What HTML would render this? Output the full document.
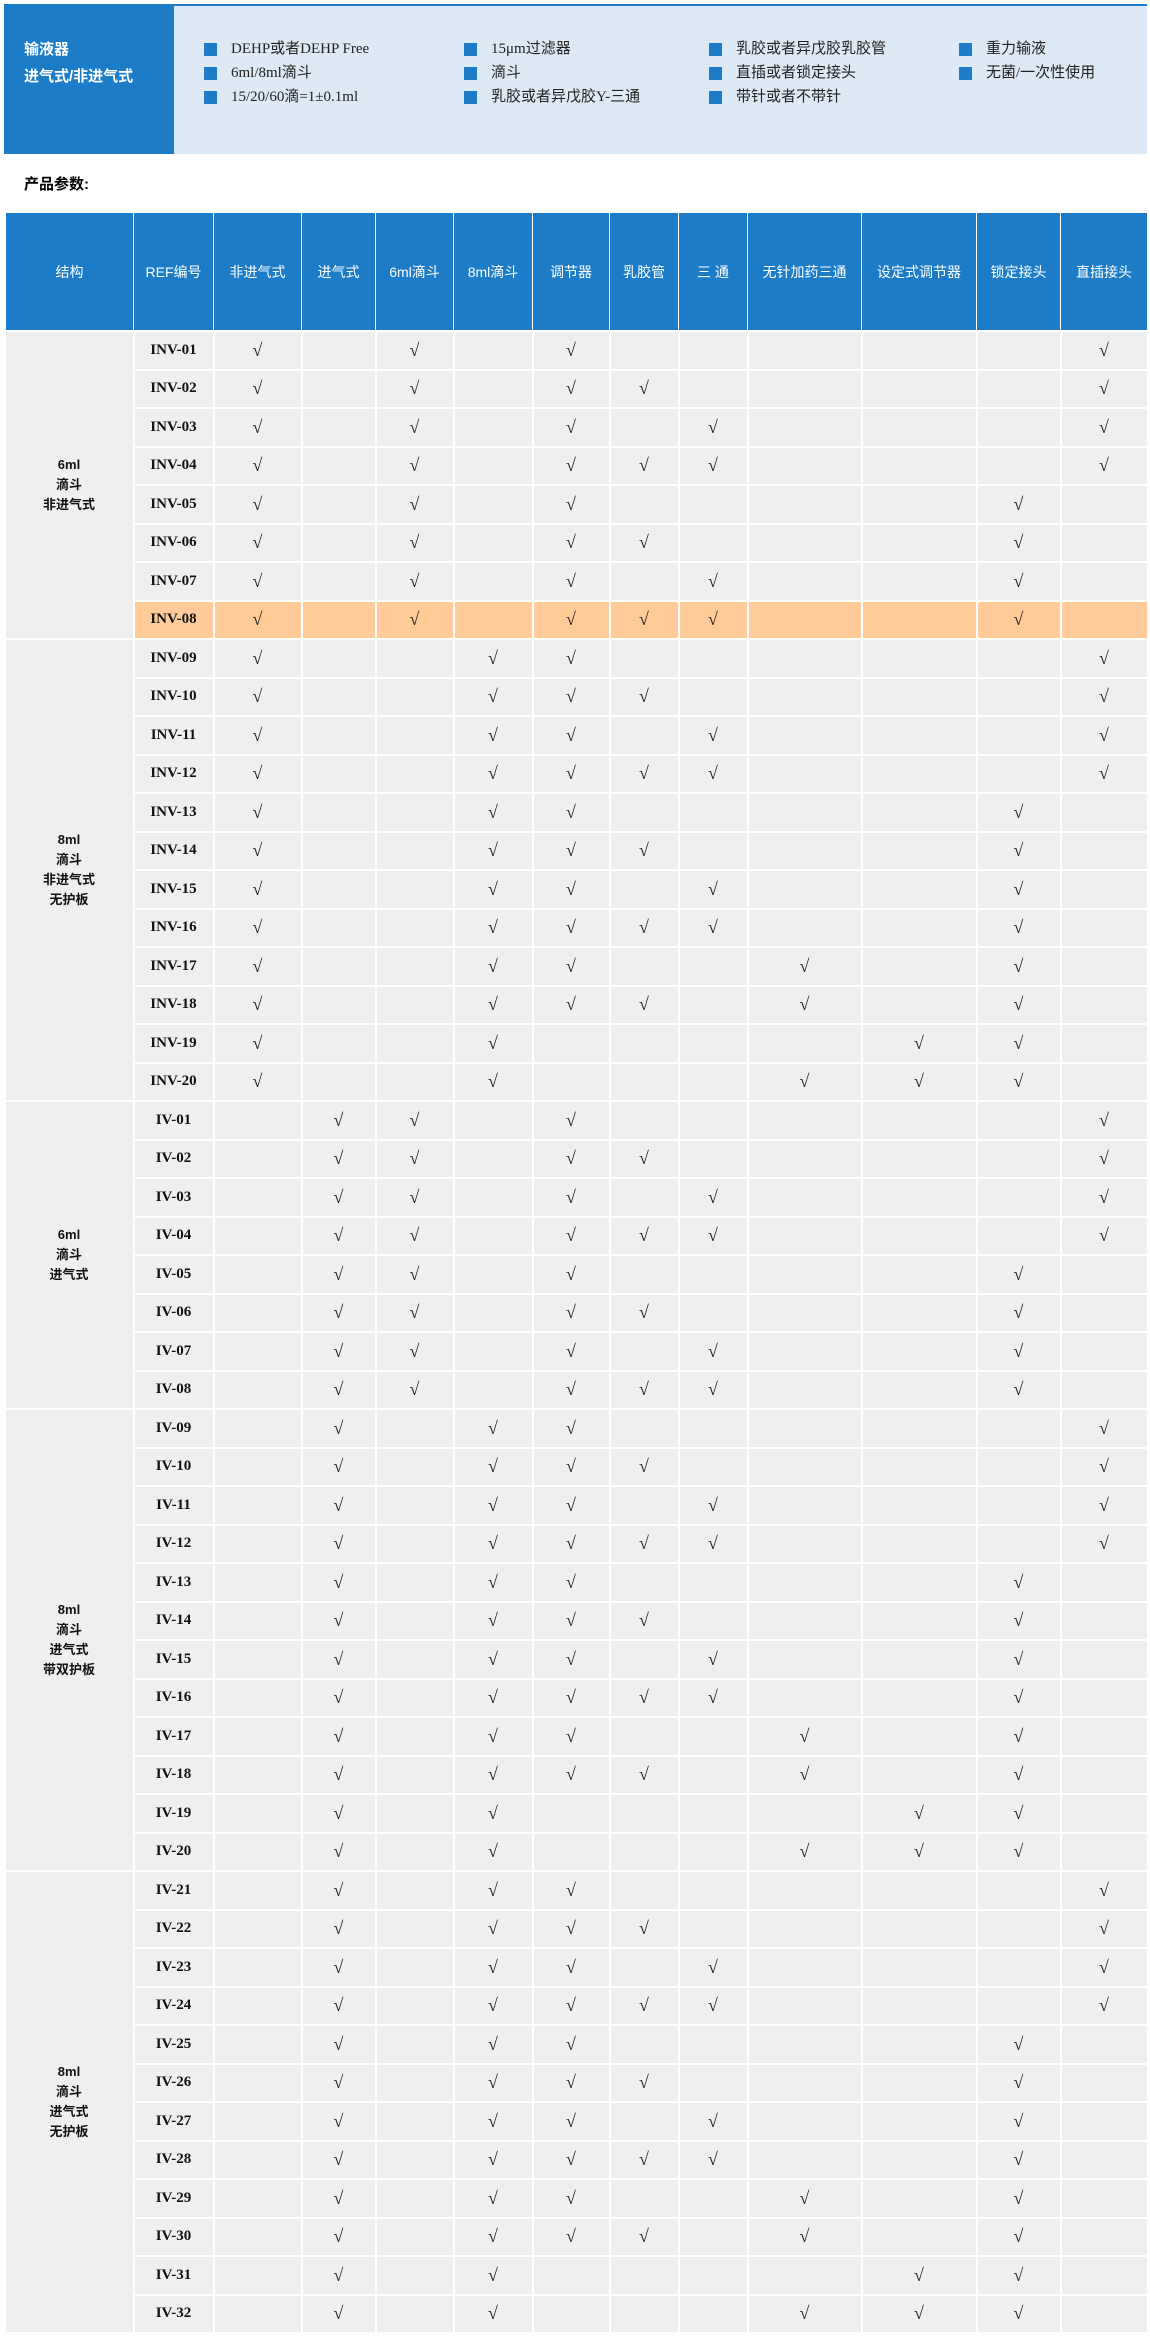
<!DOCTYPE html>
<html><head><meta charset="utf-8"><style>
*{margin:0;padding:0;box-sizing:border-box}
body{width:1150px;height:2350px;background:#fff;font-family:"Liberation Serif","Noto Serif CJK SC","Noto Sans CJK SC",serif;position:relative;overflow:hidden}
.top{position:absolute;left:4px;top:4px;width:1143px;height:150px;background:#dde9f5;border-top:2px solid #1c7cc7}
.lb{position:absolute;left:0;top:0;width:170px;height:148px;background:#1c7cc7;color:#fff;font-weight:bold;font-size:15px;padding:30px 0 0 20px;line-height:27px;font-family:"Liberation Sans","Noto Sans CJK SC",sans-serif}
.b{position:absolute;font-size:15px;color:#222;line-height:20px;font-family:"Liberation Serif","Noto Sans CJK SC",serif;white-space:nowrap}
.b:before{content:"";position:absolute;left:-27px;top:4px;width:13px;height:13px;background:#1c7cc7}
.pc{position:absolute;left:24px;top:173px;font-size:15px;font-weight:bold;font-family:"Liberation Sans","Noto Sans CJK SC",sans-serif}
table{position:absolute;left:5px;top:213px;width:1142px;border-collapse:collapse;table-layout:fixed}
th{background:#1c7cc7;color:#fff;font-weight:normal;font-size:14px;height:118px;border:1px solid #fff;border-top:none;font-family:"Liberation Sans","Noto Sans CJK SC",sans-serif}
td{background:#efefef;height:38.5px;border:2px solid #fff;text-align:center;font-size:18px;color:#222}
td.r{font-weight:bold;color:#111;font-size:15px}
td.s{font-weight:bold;color:#111;font-size:13px;line-height:20px;font-family:"Liberation Sans","Noto Sans CJK SC",sans-serif;border-left:none}
tr.h td:not(.s){background:#ffcc99}
</style></head><body>
<div class="top"><div class="lb">输液器<br>进气式/非进气式</div>
<div class="b" style="left:227px;top:33px">DEHP或者DEHP Free</div>
<div class="b" style="left:227px;top:57px">6ml/8ml滴斗</div>
<div class="b" style="left:227px;top:81px">15/20/60滴=1±0.1ml</div>
<div class="b" style="left:487px;top:33px">15μm过滤器</div>
<div class="b" style="left:487px;top:57px">滴斗</div>
<div class="b" style="left:487px;top:81px">乳胶或者异戊胶Y-三通</div>
<div class="b" style="left:732px;top:33px">乳胶或者异戊胶乳胶管</div>
<div class="b" style="left:732px;top:57px">直插或者锁定接头</div>
<div class="b" style="left:732px;top:81px">带针或者不带针</div>
<div class="b" style="left:982px;top:33px">重力输液</div>
<div class="b" style="left:982px;top:57px">无菌/一次性使用</div>
</div>
<div class="pc">产品参数:</div>
<table>
<colgroup><col style="width:128px"><col style="width:80px"><col style="width:88px"><col style="width:74px"><col style="width:78px"><col style="width:79px"><col style="width:77px"><col style="width:69px"><col style="width:69px"><col style="width:114px"><col style="width:115px"><col style="width:84px"><col style="width:87px"></colgroup>
<tr><th>结构</th><th>REF编号</th><th>非进气式</th><th>进气式</th><th>6ml滴斗</th><th>8ml滴斗</th><th>调节器</th><th>乳胶管</th><th>三 通</th><th>无针加药三通</th><th>设定式调节器</th><th>锁定接头</th><th>直插接头</th></tr>
<tr><td class="s" rowspan="8">6ml<br>滴斗<br>非进气式</td><td class="r">INV-01</td><td>√</td><td></td><td>√</td><td></td><td>√</td><td></td><td></td><td></td><td></td><td></td><td>√</td></tr>
<tr><td class="r">INV-02</td><td>√</td><td></td><td>√</td><td></td><td>√</td><td>√</td><td></td><td></td><td></td><td></td><td>√</td></tr>
<tr><td class="r">INV-03</td><td>√</td><td></td><td>√</td><td></td><td>√</td><td></td><td>√</td><td></td><td></td><td></td><td>√</td></tr>
<tr><td class="r">INV-04</td><td>√</td><td></td><td>√</td><td></td><td>√</td><td>√</td><td>√</td><td></td><td></td><td></td><td>√</td></tr>
<tr><td class="r">INV-05</td><td>√</td><td></td><td>√</td><td></td><td>√</td><td></td><td></td><td></td><td></td><td>√</td><td></td></tr>
<tr><td class="r">INV-06</td><td>√</td><td></td><td>√</td><td></td><td>√</td><td>√</td><td></td><td></td><td></td><td>√</td><td></td></tr>
<tr><td class="r">INV-07</td><td>√</td><td></td><td>√</td><td></td><td>√</td><td></td><td>√</td><td></td><td></td><td>√</td><td></td></tr>
<tr class="h"><td class="r">INV-08</td><td>√</td><td></td><td>√</td><td></td><td>√</td><td>√</td><td>√</td><td></td><td></td><td>√</td><td></td></tr>
<tr><td class="s" rowspan="12">8ml<br>滴斗<br>非进气式<br>无护板</td><td class="r">INV-09</td><td>√</td><td></td><td></td><td>√</td><td>√</td><td></td><td></td><td></td><td></td><td></td><td>√</td></tr>
<tr><td class="r">INV-10</td><td>√</td><td></td><td></td><td>√</td><td>√</td><td>√</td><td></td><td></td><td></td><td></td><td>√</td></tr>
<tr><td class="r">INV-11</td><td>√</td><td></td><td></td><td>√</td><td>√</td><td></td><td>√</td><td></td><td></td><td></td><td>√</td></tr>
<tr><td class="r">INV-12</td><td>√</td><td></td><td></td><td>√</td><td>√</td><td>√</td><td>√</td><td></td><td></td><td></td><td>√</td></tr>
<tr><td class="r">INV-13</td><td>√</td><td></td><td></td><td>√</td><td>√</td><td></td><td></td><td></td><td></td><td>√</td><td></td></tr>
<tr><td class="r">INV-14</td><td>√</td><td></td><td></td><td>√</td><td>√</td><td>√</td><td></td><td></td><td></td><td>√</td><td></td></tr>
<tr><td class="r">INV-15</td><td>√</td><td></td><td></td><td>√</td><td>√</td><td></td><td>√</td><td></td><td></td><td>√</td><td></td></tr>
<tr><td class="r">INV-16</td><td>√</td><td></td><td></td><td>√</td><td>√</td><td>√</td><td>√</td><td></td><td></td><td>√</td><td></td></tr>
<tr><td class="r">INV-17</td><td>√</td><td></td><td></td><td>√</td><td>√</td><td></td><td></td><td>√</td><td></td><td>√</td><td></td></tr>
<tr><td class="r">INV-18</td><td>√</td><td></td><td></td><td>√</td><td>√</td><td>√</td><td></td><td>√</td><td></td><td>√</td><td></td></tr>
<tr><td class="r">INV-19</td><td>√</td><td></td><td></td><td>√</td><td></td><td></td><td></td><td></td><td>√</td><td>√</td><td></td></tr>
<tr><td class="r">INV-20</td><td>√</td><td></td><td></td><td>√</td><td></td><td></td><td></td><td>√</td><td>√</td><td>√</td><td></td></tr>
<tr><td class="s" rowspan="8">6ml<br>滴斗<br>进气式</td><td class="r">IV-01</td><td></td><td>√</td><td>√</td><td></td><td>√</td><td></td><td></td><td></td><td></td><td></td><td>√</td></tr>
<tr><td class="r">IV-02</td><td></td><td>√</td><td>√</td><td></td><td>√</td><td>√</td><td></td><td></td><td></td><td></td><td>√</td></tr>
<tr><td class="r">IV-03</td><td></td><td>√</td><td>√</td><td></td><td>√</td><td></td><td>√</td><td></td><td></td><td></td><td>√</td></tr>
<tr><td class="r">IV-04</td><td></td><td>√</td><td>√</td><td></td><td>√</td><td>√</td><td>√</td><td></td><td></td><td></td><td>√</td></tr>
<tr><td class="r">IV-05</td><td></td><td>√</td><td>√</td><td></td><td>√</td><td></td><td></td><td></td><td></td><td>√</td><td></td></tr>
<tr><td class="r">IV-06</td><td></td><td>√</td><td>√</td><td></td><td>√</td><td>√</td><td></td><td></td><td></td><td>√</td><td></td></tr>
<tr><td class="r">IV-07</td><td></td><td>√</td><td>√</td><td></td><td>√</td><td></td><td>√</td><td></td><td></td><td>√</td><td></td></tr>
<tr><td class="r">IV-08</td><td></td><td>√</td><td>√</td><td></td><td>√</td><td>√</td><td>√</td><td></td><td></td><td>√</td><td></td></tr>
<tr><td class="s" rowspan="12">8ml<br>滴斗<br>进气式<br>带双护板</td><td class="r">IV-09</td><td></td><td>√</td><td></td><td>√</td><td>√</td><td></td><td></td><td></td><td></td><td></td><td>√</td></tr>
<tr><td class="r">IV-10</td><td></td><td>√</td><td></td><td>√</td><td>√</td><td>√</td><td></td><td></td><td></td><td></td><td>√</td></tr>
<tr><td class="r">IV-11</td><td></td><td>√</td><td></td><td>√</td><td>√</td><td></td><td>√</td><td></td><td></td><td></td><td>√</td></tr>
<tr><td class="r">IV-12</td><td></td><td>√</td><td></td><td>√</td><td>√</td><td>√</td><td>√</td><td></td><td></td><td></td><td>√</td></tr>
<tr><td class="r">IV-13</td><td></td><td>√</td><td></td><td>√</td><td>√</td><td></td><td></td><td></td><td></td><td>√</td><td></td></tr>
<tr><td class="r">IV-14</td><td></td><td>√</td><td></td><td>√</td><td>√</td><td>√</td><td></td><td></td><td></td><td>√</td><td></td></tr>
<tr><td class="r">IV-15</td><td></td><td>√</td><td></td><td>√</td><td>√</td><td></td><td>√</td><td></td><td></td><td>√</td><td></td></tr>
<tr><td class="r">IV-16</td><td></td><td>√</td><td></td><td>√</td><td>√</td><td>√</td><td>√</td><td></td><td></td><td>√</td><td></td></tr>
<tr><td class="r">IV-17</td><td></td><td>√</td><td></td><td>√</td><td>√</td><td></td><td></td><td>√</td><td></td><td>√</td><td></td></tr>
<tr><td class="r">IV-18</td><td></td><td>√</td><td></td><td>√</td><td>√</td><td>√</td><td></td><td>√</td><td></td><td>√</td><td></td></tr>
<tr><td class="r">IV-19</td><td></td><td>√</td><td></td><td>√</td><td></td><td></td><td></td><td></td><td>√</td><td>√</td><td></td></tr>
<tr><td class="r">IV-20</td><td></td><td>√</td><td></td><td>√</td><td></td><td></td><td></td><td>√</td><td>√</td><td>√</td><td></td></tr>
<tr><td class="s" rowspan="12">8ml<br>滴斗<br>进气式<br>无护板</td><td class="r">IV-21</td><td></td><td>√</td><td></td><td>√</td><td>√</td><td></td><td></td><td></td><td></td><td></td><td>√</td></tr>
<tr><td class="r">IV-22</td><td></td><td>√</td><td></td><td>√</td><td>√</td><td>√</td><td></td><td></td><td></td><td></td><td>√</td></tr>
<tr><td class="r">IV-23</td><td></td><td>√</td><td></td><td>√</td><td>√</td><td></td><td>√</td><td></td><td></td><td></td><td>√</td></tr>
<tr><td class="r">IV-24</td><td></td><td>√</td><td></td><td>√</td><td>√</td><td>√</td><td>√</td><td></td><td></td><td></td><td>√</td></tr>
<tr><td class="r">IV-25</td><td></td><td>√</td><td></td><td>√</td><td>√</td><td></td><td></td><td></td><td></td><td>√</td><td></td></tr>
<tr><td class="r">IV-26</td><td></td><td>√</td><td></td><td>√</td><td>√</td><td>√</td><td></td><td></td><td></td><td>√</td><td></td></tr>
<tr><td class="r">IV-27</td><td></td><td>√</td><td></td><td>√</td><td>√</td><td></td><td>√</td><td></td><td></td><td>√</td><td></td></tr>
<tr><td class="r">IV-28</td><td></td><td>√</td><td></td><td>√</td><td>√</td><td>√</td><td>√</td><td></td><td></td><td>√</td><td></td></tr>
<tr><td class="r">IV-29</td><td></td><td>√</td><td></td><td>√</td><td>√</td><td></td><td></td><td>√</td><td></td><td>√</td><td></td></tr>
<tr><td class="r">IV-30</td><td></td><td>√</td><td></td><td>√</td><td>√</td><td>√</td><td></td><td>√</td><td></td><td>√</td><td></td></tr>
<tr><td class="r">IV-31</td><td></td><td>√</td><td></td><td>√</td><td></td><td></td><td></td><td></td><td>√</td><td>√</td><td></td></tr>
<tr><td class="r">IV-32</td><td></td><td>√</td><td></td><td>√</td><td></td><td></td><td></td><td>√</td><td>√</td><td>√</td><td></td></tr>
</table>
</body></html>
